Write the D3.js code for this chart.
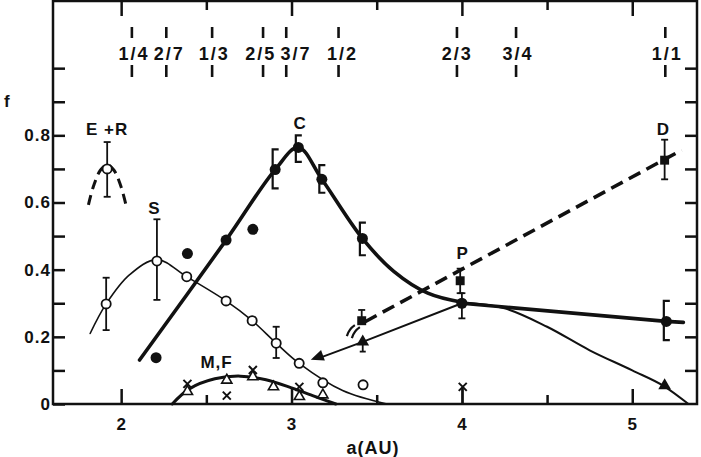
<!DOCTYPE html>
<html>
<head>
<meta charset="utf-8">
<script src="https://cdn.jsdelivr.net/npm/d3@7"></script>
<style>
  body { margin: 0; background: #fff; }
  svg text { font-family: "Liberation Sans", Arial, sans-serif; font-weight: bold; fill: #111; letter-spacing: 1px; }
  .axis path { display: none; }
  .axis line { stroke: #111; stroke-width: 2.5; }
</style>
</head>
<body>
<div id="graphic"></div>
<script>
// ---- data ----
var resLabels = ["1/4", "2/7", "1/3", "2/5", "3/7", "1/2", "2/3", "3/4", "1/1"];
var resA = [2.063, 2.265, 2.534, 2.833, 2.969, 3.276, 3.971, 4.318, 5.194];
var resLabelA = [2.07, 2.277, 2.54, 2.813, 3.021, 3.294, 3.967, 4.323, 5.2];

var xMajor = [2, 3, 4, 5];
var xMinor = [2.5, 3.5, 4.5];
var yTicks = [0, 0.1, 0.2, 0.3, 0.4, 0.5, 0.6, 0.7, 0.8, 0.9, 1.0];
var yLabels = [0, 0.2, 0.4, 0.6, 0.8];

// E+R
var erPoint = [1.918, 0.70];
var erErr = [0.617, 0.78];
var erArc = [[1.808, 0.593], [1.838, 0.649], [1.878, 0.696], [1.918, 0.712], [1.958, 0.696], [1.998, 0.649], [2.028, 0.593]];

// S (open circles, thin curve)
var sPoints = [[1.912, 0.298], [2.21, 0.426], [2.385, 0.379], [2.616, 0.307], [2.769, 0.248], [2.91, 0.181], [3.045, 0.121], [3.184, 0.063], [3.42, 0.057]];
var sErrors = [[1.912, 0.22, 0.376], [2.21, 0.31, 0.55], [2.91, 0.137, 0.23]];
var sCurve = [[1.818, 0.21], [1.912, 0.298], [2.05, 0.385], [2.21, 0.43], [2.385, 0.379], [2.616, 0.307], [2.769, 0.248], [2.91, 0.181], [3.045, 0.121], [3.3, 0.04], [3.56, 0]];

// C (filled circles, thick curve)
var cOnCurve = [[2.616, 0.488], [2.904, 0.698], [3.04, 0.764], [3.178, 0.669], [3.416, 0.493]];
var cOffCurve = [[2.205, 0.138], [2.389, 0.448], [2.773, 0.52]];
var cBrackets = [[2.904, 0.642, 0.758], [3.04, 0.721, 0.80], [3.178, 0.629, 0.711], [3.416, 0.443, 0.54]];
var cCurve = [[2.108, 0.131], [2.616, 0.488], [2.904, 0.698], [3.04, 0.764], [3.178, 0.669], [3.416, 0.493], [3.6, 0.395], [3.8, 0.33], [4.0, 0.303]];
var cTail = [[4.0, 0.303], [4.25, 0.285], [4.5, 0.23], [4.75, 0.16], [5.0, 0.1], [5.19, 0.052], [5.33, 0]];

// triangle branch (thin line)
var tLine = [[3.157, 0.136], [3.418, 0.185], [4.0, 0.30]];
var tArrow = [3.157, 0.14];
var tPoints = [[3.418, 0.185], [5.19, 0.055]];
var tErr = [[3.418, 0.156, 0.185]];

// thick flat line to 5.2
var flatLine = [[4.0, 0.30], [5.2, 0.246], [5.3, 0.243]];
var flatPoints = [[4.0, 0.30], [5.2, 0.246]];
var flatErr = [[4.0, 0.255, 0.33]];
var flatBracket = [[5.2, 0.19, 0.307]];

// dashed line with squares (P, D)
var dLine = [[3.432, 0.245], [5.29, 0.756]];
var dPoints = [[3.412, 0.248], [3.99, 0.367], [5.19, 0.726]];
var dErr = [[3.412, 0.248, 0.28], [3.99, 0.33, 0.403], [5.19, 0.669, 0.787]];

// M,F (crosses and open triangles)
var mfCurve = [[2.3, 0], [2.4, 0.045], [2.55, 0.075], [2.7, 0.083], [2.85, 0.072], [3.0, 0.048], [3.15, 0.02], [3.26, 0]];
var mfCross = [[2.389, 0.06], [2.62, 0.025], [2.773, 0.101], [3.046, 0.051], [4.005, 0.051]];
var mfTri = [[2.389, 0.037], [2.62, 0.071], [2.773, 0.081], [2.894, 0.051], [3.046, 0.022], [3.184, 0.027]];

var labels = [["E +R", 1.918, 0.818], ["S", 2.195, 0.583], ["C", 3.05, 0.838], ["P", 4.005, 0.449], ["D", 5.182, 0.818], ["M,F", 2.56, 0.126]];

// ---- drawing ----
var svg = d3.select("#graphic").append("svg")
  .attr("width", 701).attr("height", 457);

var x = d3.scaleLinear().domain([1.6, 5.38]).range([53, 697]);
var y = d3.scaleLinear().domain([0, 1.2]).range([404, 1]);

// frame
svg.append("rect")
  .attr("x", x(1.6)).attr("y", y(1.2))
  .attr("width", x(5.38) - x(1.6)).attr("height", y(0) - y(1.2))
  .attr("fill", "none").attr("stroke", "#111").attr("stroke-width", 2.5);

// bottom axis
svg.append("g").attr("class", "axis")
  .attr("transform", "translate(0," + y(0) + ")")
  .call(d3.axisBottom(x).tickValues(xMajor).tickSize(-15).tickPadding(14).tickFormat(d3.format("d")))
  .selectAll("text").style("font-size", "17px");
svg.append("g").attr("class", "axis")
  .attr("transform", "translate(0," + y(0) + ")")
  .call(d3.axisBottom(x).tickValues(xMinor).tickSize(-9).tickFormat(""));

// top axis
svg.append("g").attr("class", "axis")
  .attr("transform", "translate(0," + y(1.2) + ")")
  .call(d3.axisTop(x).tickValues(xMajor).tickSize(-15).tickFormat(""));
svg.append("g").attr("class", "axis")
  .attr("transform", "translate(0," + y(1.2) + ")")
  .call(d3.axisTop(x).tickValues(xMinor).tickSize(-9).tickFormat(""));

// left axis
svg.append("g").attr("class", "axis")
  .attr("transform", "translate(" + x(1.6) + ",0)")
  .call(d3.axisLeft(y).tickValues(yTicks).tickSize(-12).tickPadding(2)
    .tickFormat(function(d) {
      if (d === 0) return "0";
      return yLabels.indexOf(d) >= 0 ? d3.format(".1f")(d) : "";
    }))
  .selectAll("text").style("font-size", "17px");

// right axis
svg.append("g").attr("class", "axis")
  .attr("transform", "translate(" + x(5.38) + ",0)")
  .call(d3.axisRight(y).tickValues(yTicks.slice(1)).tickSize(-12).tickFormat(""));

// axis titles
svg.append("text").attr("x", 373).attr("y", 454).attr("text-anchor", "middle")
  .style("font-size", "18px").text("a(AU)");
svg.append("text").attr("x", 4).attr("y", 107).style("font-size", "17px").text("f");

// resonance markers
var res = svg.append("g").selectAll("g").data(d3.zip(resLabels, resA, resLabelA)).join("g");
res.append("line").attr("x1", d => x(d[1])).attr("x2", d => x(d[1]))
  .attr("y1", 27).attr("y2", 38).attr("stroke", "#111").attr("stroke-width", 2.6);
res.append("line").attr("x1", d => x(d[1])).attr("x2", d => x(d[1]))
  .attr("y1", 65).attr("y2", 77).attr("stroke", "#111").attr("stroke-width", 2.6);
res.append("text").attr("x", d => x(d[2]) + 1).attr("y", 59.5).attr("text-anchor", "middle")
  .style("font-size", "18px").style("letter-spacing", "2px")
  .text(d => d[0]);

var line = d3.line().x(d => x(d[0])).y(d => y(d[1]));
var smooth = d3.line().curve(d3.curveMonotoneX).x(d => x(d[0])).y(d => y(d[1]));
var catmull = d3.line().curve(d3.curveCatmullRom.alpha(0.5)).x(d => x(d[0])).y(d => y(d[1]));

function path(data, gen, width, dash) {
  svg.append("path").datum(data).attr("d", gen)
    .attr("fill", "none").attr("stroke", "#111")
    .attr("stroke-width", width)
    .attr("stroke-linecap", dash ? "butt" : "round")
    .attr("stroke-dasharray", dash || null);
}

// curves
path(erArc, catmull, 3, "10,6");
path(sCurve, catmull, 1.6);
path(cCurve, catmull, 3.6);
path(cTail, smooth, 2);
path(tLine, line, 2);
path(flatLine, line, 3.6);
path(dLine, line, 3.6, "13,7");
path(mfCurve, catmull, 3);

// error bars (I-beam)
function errBars(data, cap) {
  var g = svg.append("g").selectAll("g").data(data).join("g");
  g.append("line")
    .attr("x1", d => x(d[0])).attr("x2", d => x(d[0]))
    .attr("y1", d => y(d[1])).attr("y2", d => y(d[2]))
    .attr("stroke", "#111").attr("stroke-width", 1.8);
  [1, 2].forEach(function(k) {
    g.append("line")
      .attr("x1", d => x(d[0]) - cap).attr("x2", d => x(d[0]) + cap)
      .attr("y1", d => y(d[k])).attr("y2", d => y(d[k]))
      .attr("stroke", "#111").attr("stroke-width", 1.8);
  });
}
// bracket "[" error bars
function brackets(data) {
  svg.append("g").selectAll("path").data(data).join("path")
    .attr("d", function(d) {
      var cx = x(d[0]) - 2.5;
      return "M" + (cx + 6) + "," + y(d[2]) + "H" + cx + "V" + y(d[1]) + "H" + (cx + 6);
    })
    .attr("fill", "none").attr("stroke", "#111").attr("stroke-width", 2.2);
}

errBars([[erPoint[0], erErr[0], erErr[1]]], 3.5);
errBars(sErrors, 3.5);
errBars(tErr, 3);
errBars(flatErr, 3.5);
errBars(dErr, 3.5);
errBars([[4.005, 0, 0.051]], 0);
brackets(cBrackets);
brackets(flatBracket);

// break squiggle near the dashed line start
var sq = svg.append("g").attr("transform", "translate(" + x(3.36) + "," + y(0.22) + ")");
sq.append("path").attr("d", "M-6,6 Q-4,-1 2,-5").attr("fill", "none").attr("stroke", "#111").attr("stroke-width", 2.2);
sq.append("path").attr("d", "M-1,8 Q1,1 7,-3").attr("fill", "none").attr("stroke", "#111").attr("stroke-width", 2.2);

// markers
function xy(d) { return "translate(" + x(d[0]) + "," + y(d[1]) + ")"; }

svg.append("g").selectAll("circle").data(sPoints.concat([erPoint])).join("circle")
  .attr("cx", d => x(d[0])).attr("cy", d => y(d[1]))
  .attr("r", 4.6).attr("fill", "#fff").attr("stroke", "#111").attr("stroke-width", 1.8);

svg.append("g").selectAll("circle").data(cOnCurve.concat(cOffCurve, flatPoints)).join("circle")
  .attr("cx", d => x(d[0])).attr("cy", d => y(d[1]))
  .attr("r", 5.5).attr("fill", "#111");

svg.append("g").selectAll("path").data(dPoints).join("path")
  .attr("transform", xy).attr("d", d3.symbol(d3.symbolSquare, 80)).attr("fill", "#111");

svg.append("g").selectAll("path").data(tPoints).join("path")
  .attr("transform", xy).attr("d", d3.symbol(d3.symbolTriangle, 70)).attr("fill", "#111");

// arrowhead at the start of the triangle branch, pointing back along the line
var ang = Math.atan2(y(tLine[0][1]) - y(tLine[1][1]), x(tLine[0][0]) - x(tLine[1][0])) * 180 / Math.PI + 90;
svg.append("path").attr("transform", xy(tArrow) + " rotate(" + ang + ")")
  .attr("d", "M0,-8 L5.5,5 L-5.5,5 Z").attr("fill", "#111");

svg.append("g").selectAll("path").data(mfTri).join("path")
  .attr("transform", xy).attr("d", d3.symbol(d3.symbolTriangle, 45))
  .attr("fill", "#fff").attr("stroke", "#111").attr("stroke-width", 1.6);

svg.append("g").selectAll("path").data(mfCross).join("path")
  .attr("transform", xy)
  .attr("d", "M-4,-4L4,4M-4,4L4,-4")
  .attr("fill", "none").attr("stroke", "#111").attr("stroke-width", 2);

// series labels
svg.append("g").selectAll("text").data(labels).join("text")
  .attr("x", d => x(d[1])).attr("y", d => y(d[2]))
  .attr("dy", "0.36em").attr("text-anchor", "middle").style("font-size", "17px")
  .text(d => d[0]);
</script>
</body>
</html>
